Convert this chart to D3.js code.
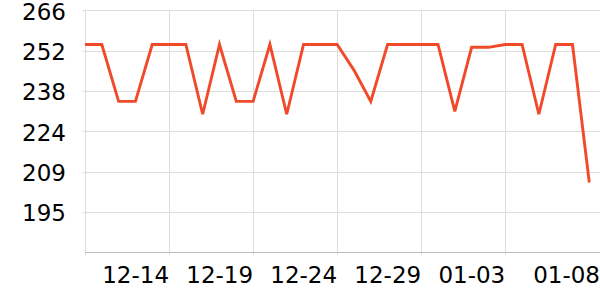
<!DOCTYPE html>
<html>
<head>
<meta charset="utf-8">
<script src="https://cdn.jsdelivr.net/npm/d3@7"></script>
<style>
  body { margin: 0; background: #fff; }
  svg text { font-family: "DejaVu Sans", sans-serif; font-size: 23px; fill: #000; }
</style>
</head>
<body>
<svg id="graph" width="600" height="300"></svg>
<script>
var dates = ["12-09","12-10","12-11","12-12","12-13","12-14","12-15","12-16","12-17","12-18",
             "12-19","12-20","12-21","12-22","12-23","12-24","12-25","12-26","12-27","12-28",
             "12-29","12-30","12-31","01-01","01-02","01-03","01-04","01-05","01-06","01-07","01-08"];
var values = [254, 254, 234, 234, 254, 254, 254, 229.5, 254, 234,
              234, 254, 229.5, 254, 254, 254, 245, 234, 254, 254,
              254, 254, 230.5, 253, 253, 254, 254, 229.5, 254, 254, 205.5];
var xTickDates = ["12-09","12-14","12-19","12-24","12-29","01-03","01-08"];
var xLabels = ["", "12-14", "12-19", "12-24", "12-29", "01-03", "01-08"];
var yTicks = [195.17, 209.33, 223.5, 237.67, 251.83, 266];
var yMin = 181, yMax = 266;

var graph_w = 600;
var graph_h = 300;
var left = 85, top_ = 10.3, bottom = 252.3, plotRight = 589.3;

var timeScale = d3.scalePoint().domain(dates).range([left, plotRight]);
var plotScale = d3.scaleLinear().domain([yMin, yMax]).range([bottom, top_]);

var graphcanvas = d3.select("svg#graph");

// horizontal grid + y labels
for (var i = 0; i < yTicks.length; i++) {
  var yy = Math.round(plotScale(yTicks[i])) + 0.5;
  graphcanvas.append("line")
    .attr("class", "ymemori")
    .attr("x1", left - 2.5)
    .attr("x2", graph_w)
    .attr("y1", yy)
    .attr("y2", yy)
    .attr("stroke", "#dddddd")
    .attr("stroke-width", 1);
  graphcanvas.append("text")
    .attr("class", "ylabel")
    .text(Math.round(yTicks[i]))
    .attr("x", 66)
    .attr("y", plotScale(yTicks[i]) + 1)
    .attr("dy", "0.36em")
    .attr("text-anchor", "end");
}

// vertical grid + x labels
for (var i = 0; i < xTickDates.length; i++) {
  var xx = Math.round(timeScale(xTickDates[i])) + 0.5;
  var last = (i == xTickDates.length - 1);
  if (!last) {
    graphcanvas.append("line")
      .attr("class", "xmemori")
      .attr("x1", xx)
      .attr("x2", xx)
      .attr("y1", plotScale(yMax))
      .attr("y2", bottom + 3)
      .attr("stroke", "#dddddd")
      .attr("stroke-width", 1);
  }
  graphcanvas.append("text")
    .attr("class", "xlabel")
    .text(xLabels[i])
    .attr("x", last ? graph_w : timeScale(xTickDates[i]))
    .attr("y", bottom + 30.5)
    .attr("text-anchor", "end");
}

// x axis
graphcanvas.append("line")
  .attr("id", "xaxis")
  .attr("x1", left)
  .attr("x2", graph_w)
  .attr("y1", Math.round(bottom) + 0.5)
  .attr("y2", Math.round(bottom) + 0.5)
  .attr("stroke", "#bbbbbb")
  .attr("stroke-width", 1);

// data line
var line = d3.line()
  .x(function(d, i){ return timeScale(dates[i]); })
  .y(function(d){ return plotScale(d); });

graphcanvas.append("path")
  .attr("class", "graphline")
  .attr("d", line(values))
  .attr("fill", "none")
  .attr("stroke", "#f04a2a")
  .attr("stroke-width", 2.9)
  .attr("stroke-linejoin", "miter");
</script>
</body>
</html>
